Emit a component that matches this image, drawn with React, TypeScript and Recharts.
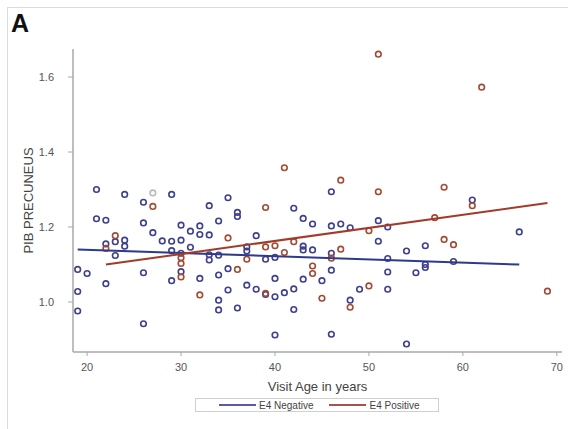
import React from 'react';
import { ScatterChart, Scatter, XAxis, YAxis } from 'recharts';

// [visit age, PIB precuneus]
const negativePoints: [number, number][] = [
  [19, 1.087], [19, 1.028], [19, 0.976], [20, 1.076], [21, 1.3], [21, 1.222], [22, 1.218], [22, 1.155],
  [22, 1.049], [23, 1.161], [23, 1.124], [24, 1.287], [24, 1.165], [24, 1.149], [26, 1.266], [26, 1.211],
  [26, 1.078], [26, 0.942], [27, 1.185], [28, 1.163], [29, 1.287], [29, 1.162], [29, 1.137], [29, 1.057],
  [30, 1.205], [30, 1.165], [30, 1.13], [30, 1.081], [31, 1.189], [31, 1.146], [32, 1.203], [32, 1.18],
  [32, 1.063], [33, 1.257], [33, 1.179], [33, 1.126], [33, 1.112], [34, 1.216], [34, 1.125], [34, 1.072],
  [34, 1.005], [34, 0.979], [35, 1.278], [35, 1.089], [35, 1.032], [36, 1.239], [36, 1.228], [36, 0.984],
  [37, 1.147], [37, 1.136], [37, 1.045], [38, 1.177], [38, 1.034], [39, 1.114], [39, 1.02], [40, 1.119],
  [40, 1.063], [40, 1.014], [40, 0.912], [41, 1.025], [42, 1.25], [42, 1.035], [42, 0.98], [43, 1.223],
  [43, 1.149], [43, 1.139], [43, 1.061], [44, 1.208], [44, 1.139], [45, 1.057], [46, 1.294], [46, 1.203],
  [46, 1.13], [46, 1.085], [46, 0.914], [47, 1.208], [48, 1.198], [48, 1.005], [49, 1.034], [51, 1.217],
  [51, 1.162], [52, 1.2], [52, 1.116], [52, 1.08], [52, 1.034], [54, 1.136], [54, 0.888], [55, 1.078],
  [56, 1.15], [56, 1.1], [56, 1.092], [59, 1.108], [61, 1.272], [66, 1.187],
];

const positivePoints: [number, number][] = [
  [22, 1.143], [23, 1.177], [27, 1.255], [30, 1.118], [30, 1.103], [30, 1.067], [32, 1.019], [35, 1.171],
  [36, 1.087], [37, 1.114], [39, 1.252], [39, 1.147], [39, 1.023], [40, 1.15], [41, 1.358], [41, 1.132],
  [42, 1.161], [44, 1.096], [44, 1.076], [45, 1.01], [46, 1.117], [47, 1.325], [47, 1.141], [48, 0.986],
  [50, 1.19], [50, 1.043], [51, 1.661], [51, 1.294], [57, 1.225], [58, 1.306], [58, 1.167], [59, 1.153],
  [61, 1.257], [62, 1.573], [69, 1.029],
];

const fadedPoints: [number, number][] = [[27, 1.291]];

const negativeFit: [number, number][] = [[19, 1.14], [66, 1.1]];
const positiveFit: [number, number][] = [[22, 1.1], [69, 1.264]];

const xTicks = [20, 30, 40, 50, 60, 70];
const yTicks = [1.0, 1.2, 1.4, 1.6];

const seriesNames = ['E4 Negative', 'E4 Positive'];

const BLUE = '#3d3f8f';
const RED = '#a24a33';
const BLUE_LINE = '#2e3a8c';
const RED_LINE = '#a33b29';

const toRows = (pts: [number, number][]) => pts.map(([x, y]) => ({ x, y }));

const ring = (color: string) => (props: any) => {
  if (props.cx == null || props.cy == null) return <g />;
  return <circle cx={props.cx} cy={props.cy} r={2.8} fill="none" stroke={color} strokeWidth={1.6} />;
};

const noShape = () => <g />;

const FONT = '"Liberation Sans", Arial, sans-serif';

export default function App() {
  return (
    <div
      style={{
        position: 'absolute',
        left: 0,
        top: 0,
        width: 568,
        height: 429,
        background: '#fff',
        overflow: 'hidden',
        fontFamily: FONT,
      }}
    >
      <div
        style={{
          position: 'absolute',
          left: 7,
          top: 7,
          width: 600,
          height: 500,
          borderLeft: '1px solid #dcdcdc',
          borderTop: '1px solid #dcdcdc',
        }}
      />
      <div
        style={{
          position: 'absolute',
          left: 11,
          top: 9,
          fontSize: 25,
          fontWeight: 'bold',
          color: '#111',
          fontFamily: FONT,
          lineHeight: '28px',
        }}
      >
        A
      </div>
      <div style={{ position: 'absolute', left: 0, top: 0 }}>
        <ScatterChart width={568} height={429} margin={{ top: 49, right: 6, bottom: 0, left: 0 }}>
          <XAxis
            type="number"
            dataKey="x"
            domain={[18.5, 70.55]}
            ticks={xTicks}
            allowDataOverflow
            height={77}
            tickSize={4}
            tickMargin={7}
            axisLine={{ stroke: '#a8a8a8', strokeWidth: 1.5 }}
            tickLine={{ stroke: '#a8a8a8' }}
            tick={{ fill: '#555', fontSize: 11, fontFamily: FONT }}
            label={{
              value: 'Visit Age in years',
              position: 'insideTop',
              offset: 30,
              fill: '#444',
              fontSize: 13,
              fontFamily: FONT,
            }}
          />
          <YAxis
            type="number"
            dataKey="y"
            domain={[0.8667, 1.6747]}
            ticks={yTicks}
            allowDataOverflow
            width={73}
            tickSize={5}
            tickMargin={14}
            tickFormatter={(v: number) => v.toFixed(1)}
            axisLine={{ stroke: '#a8a8a8', strokeWidth: 1.5 }}
            tickLine={{ stroke: '#a8a8a8' }}
            tick={{ fill: '#555', fontSize: 11, fontFamily: FONT }}
            label={{
              content: (p: any) => {
                const vb = p.viewBox || {};
                const cy = (vb.y ?? 49) + (vb.height ?? 303) / 2;
                const cx = 33;
                return (
                  <text
                    x={cx}
                    y={cy}
                    transform={`rotate(-90, ${cx}, ${cy})`}
                    textAnchor="middle"
                    fill="#444"
                    fontSize={13}
                    fontFamily={FONT}
                  >
                    PIB PRECUNEUS
                  </text>
                );
              },
            }}
          />
          <Scatter
            name="faded"
            data={toRows(fadedPoints)}
            shape={ring('#b8b8c4')}
            isAnimationActive={false}
          />
          <Scatter
            name={seriesNames[0]}
            data={toRows(negativePoints)}
            shape={ring(BLUE)}
            isAnimationActive={false}
          />
          <Scatter
            name={seriesNames[1]}
            data={toRows(positivePoints)}
            shape={ring(RED)}
            isAnimationActive={false}
          />
          <Scatter
            name={seriesNames[0] + ' fit'}
            data={toRows(negativeFit)}
            line={{ stroke: BLUE_LINE, strokeWidth: 2 }}
            shape={noShape}
            isAnimationActive={false}
          />
          <Scatter
            name={seriesNames[1] + ' fit'}
            data={toRows(positiveFit)}
            line={{ stroke: RED_LINE, strokeWidth: 2 }}
            shape={noShape}
            isAnimationActive={false}
          />
        </ScatterChart>
      </div>
      <div
        style={{
          position: 'absolute',
          left: 195,
          top: 398,
          width: 244,
          height: 14,
          border: '1px solid #cfcfcf',
          display: 'flex',
          alignItems: 'center',
          paddingLeft: 23,
          boxSizing: 'border-box',
          fontSize: 10,
          color: '#444',
          fontFamily: FONT,
        }}
      >
        {seriesNames.map((name, i) => (
          <div key={name} style={{ display: 'flex', alignItems: 'center', marginRight: 16 }}>
            <span
              style={{
                display: 'inline-block',
                width: 37,
                height: 0,
                borderTop: `2px solid ${i === 0 ? '#5a5c9c' : '#a4554a'}`,
                marginRight: 3,
              }}
            />
            <span>{name}</span>
          </div>
        ))}
      </div>
    </div>
  );
}
